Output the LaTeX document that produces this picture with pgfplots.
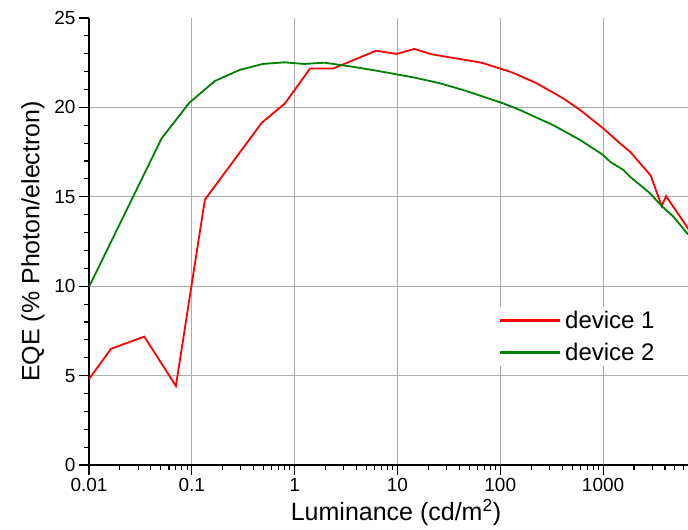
\documentclass[border=0pt]{standalone}
\usepackage{fontspec}
\setmainfont{Liberation Sans}
\usepackage{pgfplots}
\pgfplotsset{compat=1.18}
\definecolor{devred}{RGB}{255,0,0}
\definecolor{devgreen}{RGB}{0,128,0}
\begin{document}
\begin{tikzpicture}
\begin{axis}[
  scale only axis, width=599pt, height=447pt,
  xmode=log, xmin=0.01, xmax=6700, ymin=0, ymax=25,
  axis x line=bottom, axis y line=left,
  axis line style={-, line width=1.2pt, black},
  xtick={0.01,0.1,1,10,100,1000},
  xticklabels={0.01,0.1,1,10,100,1000},
  minor xtick={0.02,0.03,0.04,0.05,0.06,0.07,0.08,0.09,
               0.2,0.3,0.4,0.5,0.6,0.7,0.8,0.9,
               2,3,4,5,6,7,8,9,
               20,30,40,50,60,70,80,90,
               200,300,400,500,600,700,800,900,
               2000,3000,4000,5000,6000},
  ytick={0,5,10,15,20},
  extra y ticks={25}, extra y tick style={grid=none},
  minor ytick={1,2,3,4,6,7,8,9,11,12,13,14,16,17,18,19,21,22,23,24},
  tick align=outside,
  major tick length=10pt, minor tick length=5pt,
  tick style={black, line width=1.1pt},
  grid=major, major grid style={black!32, line width=1pt},
  tick label style={font=\fontsize{19}{22}\selectfont},
  /pgf/number format/assume math mode=true,
  xlabel={Luminance (cd/m\textsuperscript{2})},
  ylabel={EQE (\% Photon/electron)},
  every axis x label/.style={at={(axis description cs:0.5125,-0.107)}, anchor=center},
  every axis y label/.style={at={(axis description cs:-0.0935,0.5)}, rotate=90, anchor=center},
  label style={font=\fontsize{25}{30}\selectfont},
  legend style={draw=none, font=\fontsize{24}{28}\selectfont,
    at={(axis description cs:0.6806,0.2875)}, anchor=west, row sep=9pt},
  % legend keys as short solid bars in the series colour, with a small gap before the text
  legend image code/.code={\fill[#1] (0pt,-0.9pt) rectangle (58pt,0.9pt); \path (61.5pt,0pt);},
  legend cell align=left,
]
\addplot[devred, line width=1.8pt] coordinates {
  (0.01,4.81) (0.0164,6.5) (0.0345,7.18) (0.070,4.42) (0.134,14.84)
  (0.479,19.14) (0.807,20.23) (1.41,22.17) (2.38,22.18) (6.2,23.17)
  (9.8,22.99) (14.6,23.27) (21.5,22.97) (66,22.5) (130,21.96)
  (226,21.35) (411,20.5) (597,19.86) (1000,18.83) (1460,17.99)
  (1830,17.52) (2900,16.2) (3720,14.48) (4100,15.04) (6460,13.37) (6700,13.2)
};
\addlegendentry{device 1}
\addplot[devgreen, line width=1.8pt] coordinates {
  (0.01,9.96) (0.0509,18.27) (0.0946,20.26) (0.168,21.48) (0.290,22.09)
  (0.490,22.43) (0.794,22.52) (1.24,22.43) (1.95,22.5) (4.0,22.24)
  (6.3,22.05) (9.8,21.85) (14.3,21.68) (25.9,21.35) (43.7,20.97)
  (103,20.26) (156,19.85) (329,19.0) (597,18.18) (1000,17.34)
  (1170,16.96) (1580,16.5) (1830,16.12) (2860,15.2) (3720,14.48)
  (4830,13.89) (6700,12.9)
};
\addlegendentry{device 2}
\end{axis}
\pgfresetboundingbox
\path (current axis.south west) ++(-89pt,-65pt) rectangle ++(688pt,530pt);
\end{tikzpicture}
\end{document}
